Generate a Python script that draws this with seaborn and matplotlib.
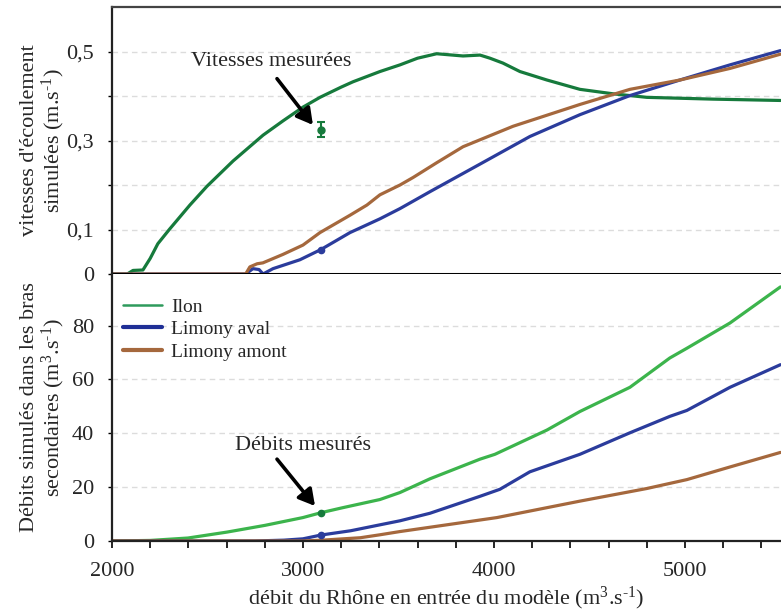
import matplotlib
matplotlib.use('Agg')
import matplotlib.pyplot as plt
import numpy as np
import pandas as pd
import seaborn as sns

# --- vitesses simulées (panneau du haut) ---
ilon_v_x = [2000, 2080, 2110, 2162, 2200, 2240, 2300, 2408, 2497, 2634, 2791, 2895, 3000, 3089,
            3200, 3262, 3403, 3508, 3600, 3700, 3838, 3927, 3979, 4047, 4136, 4277, 4450,
            4623, 4801, 5147, 5500]
ilon_v_y = [0, 0, 0.008, 0.009, 0.035, 0.068, 0.1, 0.155, 0.197, 0.254, 0.312, 0.344, 0.375, 0.397,
            0.42, 0.432, 0.455, 0.47, 0.485, 0.495, 0.49, 0.492, 0.485, 0.474, 0.455, 0.436, 0.415,
            0.405, 0.397, 0.393, 0.39]

amont_v_x = [2000, 2700, 2722, 2760, 2790, 2895, 3000, 3089, 3246, 3335, 3403, 3508, 3577,
             3700, 3838, 4100, 4450, 4712, 4974, 5236, 5500]
amont_v_y = [0, 0, 0.016, 0.023, 0.025, 0.044, 0.065, 0.093, 0.132, 0.155, 0.178, 0.2, 0.217,
             0.25, 0.286, 0.332, 0.381, 0.415, 0.436, 0.462, 0.494]

aval_v_x = [2000, 2700, 2738, 2770, 2791, 2843, 2984, 3094, 3246, 3403, 3508, 3665, 3927,
            4188, 4450, 4712, 4974, 5236, 5500]
aval_v_y = [0, 0, 0.012, 0.01, 0.0, 0.012, 0.032, 0.055, 0.093, 0.124, 0.147, 0.185, 0.247,
            0.309, 0.358, 0.401, 0.436, 0.47, 0.502]

# --- débits simulés (panneau du bas) ---
ilon_q_x = [2000, 2200, 2398, 2602, 2801, 3000, 3094, 3204, 3403, 3508, 3665, 3927, 4005,
            4277, 4450, 4712, 4921, 5010, 5236, 5500]
ilon_q_y = [0, 0.2, 1.1, 3.3, 5.8, 8.7, 10.5, 12.3, 15.4, 18.0, 23.1, 30.4, 32.2,
            41.2, 48.1, 57.1, 68, 71.6, 81, 94.4]

aval_q_x = [2000, 2750, 2900, 3000, 3094, 3250, 3403, 3508, 3665, 3927, 4031, 4188, 4450,
            4712, 4921, 5010, 5236, 5500]
aval_q_y = [0, 0, 0.3, 0.8, 2.2, 3.8, 6.0, 7.5, 10.3, 16.6, 19.2, 25.7, 32.2,
            40.2, 46.3, 48.5, 57.1, 65.5]

amont_q_x = [2000, 3000, 3100, 3300, 3403, 3508, 3665, 4016, 4450, 4801, 5010, 5236, 5500]
amont_q_y = [0, 0, 0.3, 1.2, 2.3, 3.5, 5.1, 8.7, 14.8, 19.5, 22.8, 27.5, 32.9]

# --- mesures ---
mes_x = 3094
mes_v_ilon, mes_v_ilon_err = 0.324, 0.017
mes_v_aval = 0.055
mes_q_ilon = 10.5
mes_q_aval = 2.2

series = ['Ilon', 'Limony aval', 'Limony amont']


def long_df(pairs):
    frames = []
    for name, (x, y) in zip(series, pairs):
        frames.append(pd.DataFrame({'x': x, 'y': y, 'serie': name}))
    return pd.concat(frames, ignore_index=True)


vit = long_df([(ilon_v_x, ilon_v_y), (aval_v_x, aval_v_y), (amont_v_x, amont_v_y)])
deb = long_df([(ilon_q_x, ilon_q_y), (aval_q_x, aval_q_y), (amont_q_x, amont_q_y)])

sns.set_theme(style='white')
plt.rcParams['font.family'] = ['Liberation Serif', 'DejaVu Serif']
plt.rcParams['mathtext.fontset'] = 'custom'
plt.rcParams['mathtext.rm'] = 'Liberation Serif'
plt.rcParams['mathtext.it'] = 'Liberation Serif:italic'

pal_top = {'Ilon': '#167a3c', 'Limony aval': '#2b3c9c', 'Limony amont': '#a5683d'}
pal_bot = {'Ilon': '#3cb44c', 'Limony aval': '#2b3c9c', 'Limony amont': '#a5683d'}

fig, (ax1, ax2) = plt.subplots(2, 1, figsize=(7.81, 6.16), dpi=100, sharex=True)
fig.subplots_adjust(left=0.1434, right=1.0, top=0.9886, bottom=0.1218, hspace=0)

sns.lineplot(data=vit, x='x', y='y', hue='serie', palette=pal_top, estimator=None,
             sort=False, lw=2.3, legend=False, ax=ax1)
sns.lineplot(data=deb, x='x', y='y', hue='serie', palette=pal_bot, estimator=None,
             sort=False, lw=2.3, ax=ax2)

# points mesurés
ax1.errorbar([mes_x], [mes_v_ilon], yerr=[mes_v_ilon_err], fmt='o', ms=5, color='#167a3c',
             capsize=3, elinewidth=1.5, capthick=1.5, zorder=5)
ax1.plot([mes_x], [mes_v_aval], 'o', ms=4.5, color='#2b3c9c', zorder=5)
ax2.plot([mes_x], [mes_q_ilon], 'o', ms=4.5, color='#167a3c', zorder=5)
ax2.plot([mes_x], [mes_q_aval], 'o', ms=4.5, color='#2b3c9c', zorder=5)

arrow = dict(arrowstyle='-|>,head_length=0.8,head_width=0.45', lw=2.6, color='black',
             shrinkA=0, shrinkB=0)
ax1.text(2832, 0.478, 'Vitesses mesurées', ha='center', va='center', fontsize=16)
ax1.annotate('', xy=(3052, 0.335), xytext=(2864, 0.439), arrowprops=arrow)
ax2.text(3000, 35.4, 'Débits mesurés', ha='center', va='center', fontsize=16)
ax2.annotate('', xy=(3063, 13.0), xytext=(2864, 30.4), arrowprops=arrow)

# axes
ax1.set_xlim(2000, 5503)
ax1.set_ylim(0, 0.6)
ax1.set_yticks([0, 0.1, 0.2, 0.3, 0.4, 0.5])
ax1.set_yticklabels(['0', '0,1', '', '0,3', '', '0,5'])
ax2.set_ylim(0, 99.2)
ax2.set_yticks([0, 20, 40, 60, 80])
ax2.set_xticks([2000, 3000, 4000, 5000])
ax2.set_xticks(np.arange(2000, 5501, 200), minor=True)

for ax in (ax1, ax2):
    ax.grid(axis='y', color='#dcdcdc', ls=(0, (4, 3)), lw=1)
    ax.set_xlabel('')
    ax.tick_params(axis='y', labelsize=16, length=3, width=1, pad=10, left=True, color='black')
    ax.spines['right'].set_visible(False)
    for s in ('left', 'top', 'bottom'):
        ax.spines[s].set_color('#222222')
        ax.spines[s].set_linewidth(1.6)

ax1.spines['top'].set_color('#444444')
ax1.spines['bottom'].set_linewidth(2.2)
ax1.spines['bottom'].set_color('black')
ax2.spines['top'].set_visible(False)
ax1.tick_params(axis='x', bottom=False, labelbottom=False)
ax2.tick_params(axis='x', which='major', labelsize=16, length=5, width=1.2, pad=10,
                bottom=True, color='black', direction='out')
ax2.tick_params(axis='x', which='minor', length=5, width=1.2, bottom=True, color='black',
                direction='out')

ax1.set_ylabel("vitesses d'écoulement\nsimulées (m.s$^{\\text{-}1}$)", fontsize=16,
               linespacing=1.0)
ax2.set_ylabel('Débits simulés dans les bras\nsecondaires (m$^{3}$.s$^{\\text{-}1}$)',
               fontsize=16, linespacing=1.0)
ax1.yaxis.set_label_coords(-0.068, 0.5)
ax2.yaxis.set_label_coords(-0.068, 0.5)
ax2.set_xlabel('débit du Rhône en entrée du modèle (m$^{3}$.s$^{\\text{-}1}$)', fontsize=16,
               labelpad=3)

leg = ax2.legend(loc='upper left', bbox_to_anchor=(0.016, 0.91), frameon=False, fontsize=14,
                 borderaxespad=0, borderpad=0, handlelength=2.0, handletextpad=0.5,
                 labelspacing=0.25)
leg_lw = {'Ilon': 1.8, 'Limony aval': 3.0, 'Limony amont': 3.0}
leg_col = {'Ilon': '#2e9a5c', 'Limony aval': '#1f2f96', 'Limony amont': '#a5683d'}
for line, text in zip(leg.get_lines(), leg.get_texts()):
    line.set_linewidth(leg_lw[text.get_text()])
    line.set_color(leg_col[text.get_text()])

fig.savefig('out.png', dpi=100)
